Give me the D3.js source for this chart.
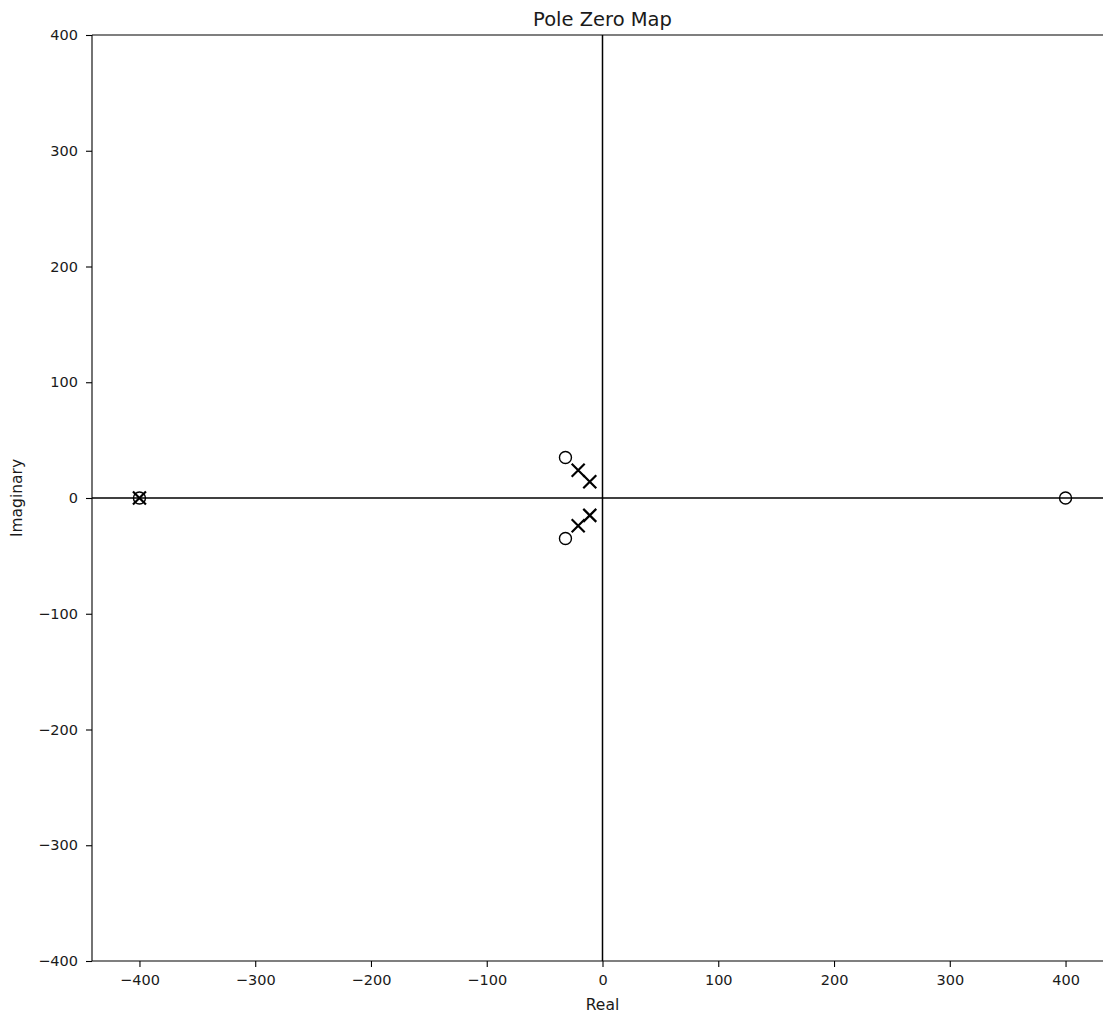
<!DOCTYPE html>
<html>
<head>
<meta charset="utf-8">
<script src="https://cdn.jsdelivr.net/npm/d3@7"></script>
<style>
    body { margin: 0; background: #fff; overflow: hidden; }
    svg { display: block; font-family: "DejaVu Sans", sans-serif; }
</style>
</head>
<body>
<svg id="chart"></svg>
<script>
// zeros (circles) and poles (crosses)
const zerosRe = [-32, -32, -400, 400];
const zerosIm = [35, -35, 0, 0];
const polesRe = [-21, -11, -21, -11, -400];
const polesIm = [24, 14, -24, -15, 0];
const xTicks = [-400, -300, -200, -100, 0, 100, 200, 300, 400];
const yTicks = [-400, -300, -200, -100, 0, 100, 200, 300, 400];

const WIDTH = 1103;
const HEIGHT = 1015;
const MARGIN = { top: 35, left: 92, bottom: 54 };
const PLOT_W = 1021; // axes run past the right edge of the window
const X_DOMAIN = [-441, 441];
const Y_DOMAIN = [-400, 400];
const TEXT_COLOR = "#1a1a1a";

const svg = d3.select("#chart")
    .attr("width", WIDTH)
    .attr("height", HEIGHT);

const x = d3.scaleLinear()
    .domain(X_DOMAIN)
    .range([MARGIN.left, MARGIN.left + PLOT_W]);

const y = d3.scaleLinear()
    .domain(Y_DOMAIN)
    .range([HEIGHT - MARGIN.bottom, MARGIN.top]);

const minus = v => String(v).replace("-", "\u2212");

const xAxis = svg.append("g")
    .attr("transform", `translate(0, ${ y(Y_DOMAIN[0]) })`)
    .call(d3.axisBottom(x).tickValues(xTicks).tickFormat(minus).tickSize(6).tickPadding(8));

const yAxis = svg.append("g")
    .attr("transform", `translate(${ x(X_DOMAIN[0]) }, 0)`)
    .call(d3.axisLeft(y).tickValues(yTicks).tickFormat(minus).tickSize(6).tickPadding(8));

[xAxis, yAxis].forEach(ax => {
    ax.select(".domain").attr("stroke", "#000").attr("stroke-width", 1.1);
    ax.selectAll(".tick line").attr("stroke", "#000").attr("stroke-width", 1.1);
    ax.selectAll(".tick text")
        .attr("fill", TEXT_COLOR)
        .attr("font-size", "14.5px")
        .attr("font-family", "DejaVu Sans, sans-serif");
});
xAxis.select(".domain").attr("d", `M${ MARGIN.left },0H${ MARGIN.left + PLOT_W }`);
yAxis.select(".domain").attr("d", `M0,${ y(Y_DOMAIN[0]) }V${ y(Y_DOMAIN[1]) }`);

// top spine
svg.append("line")
    .attr("x1", x(X_DOMAIN[0])).attr("x2", x(X_DOMAIN[1]))
    .attr("y1", y(Y_DOMAIN[1])).attr("y2", y(Y_DOMAIN[1]))
    .attr("stroke", "#000").attr("stroke-width", 1.1);

// real and imaginary axes through the origin
svg.append("line")
    .attr("x1", x(X_DOMAIN[0])).attr("x2", x(X_DOMAIN[1]))
    .attr("y1", y(0)).attr("y2", y(0))
    .attr("stroke", "#000").attr("stroke-width", 1.5);
svg.append("line")
    .attr("x1", x(0)).attr("x2", x(0))
    .attr("y1", y(Y_DOMAIN[0])).attr("y2", y(Y_DOMAIN[1]))
    .attr("stroke", "#000").attr("stroke-width", 1.5);

const zeros = zerosRe.map((re, i) => ({ re, im: zerosIm[i] }));
const poles = polesRe.map((re, i) => ({ re, im: polesIm[i] }));

svg.append("g")
    .selectAll("circle")
    .data(zeros)
    .join("circle")
    .attr("cx", d => x(d.re))
    .attr("cy", d => y(d.im))
    .attr("r", 6)
    .attr("fill", "none")
    .attr("stroke", "#000")
    .attr("stroke-width", 1.4);

const S = 6.5;
svg.append("g")
    .selectAll("path")
    .data(poles)
    .join("path")
    .attr("d", d => {
        const cx = x(d.re), cy = y(d.im);
        return `M${ cx - S },${ cy - S }L${ cx + S },${ cy + S }M${ cx - S },${ cy + S }L${ cx + S },${ cy - S }`;
    })
    .attr("fill", "none")
    .attr("stroke", "#000")
    .attr("stroke-width", 2.2);

// labels
svg.append("text")
    .attr("x", x(0))
    .attr("y", 26)
    .attr("text-anchor", "middle")
    .attr("font-size", "19.5px")
    .attr("fill", TEXT_COLOR)
    .text("Pole Zero Map");

svg.append("text")
    .attr("x", x(0))
    .attr("y", 1010)
    .attr("text-anchor", "middle")
    .attr("font-size", "15.5px")
    .attr("fill", TEXT_COLOR)
    .text("Real");

svg.append("text")
    .attr("transform", `translate(22, ${ y(0) }) rotate(-90)`)
    .attr("text-anchor", "middle")
    .attr("font-size", "15.5px")
    .attr("fill", TEXT_COLOR)
    .text("Imaginary");
</script>
</body>
</html>
